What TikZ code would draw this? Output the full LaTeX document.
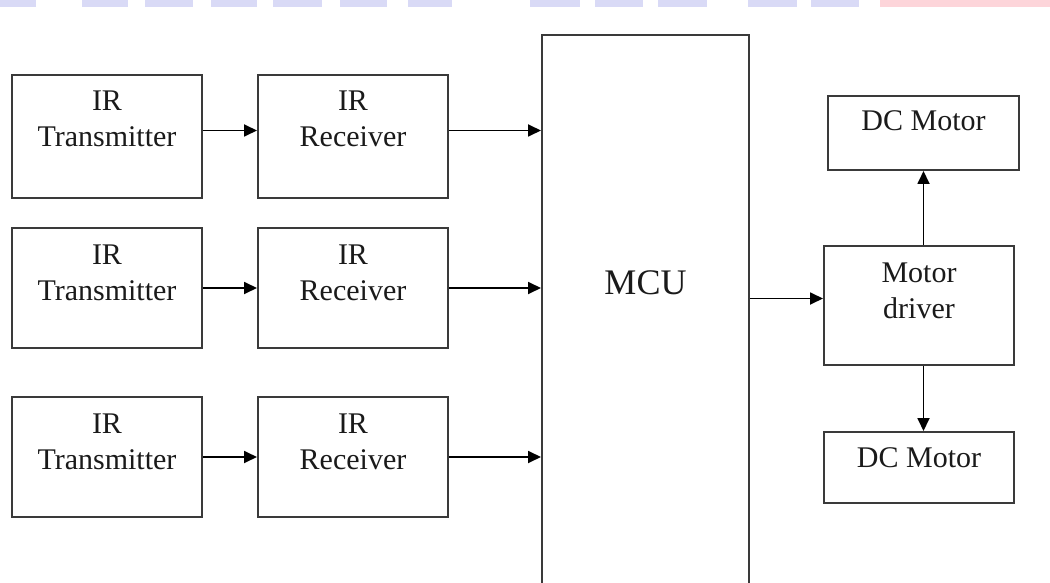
\documentclass[tikz,border=0pt]{standalone}
\usepackage{fontspec}
\setmainfont{Liberation Serif}
\usetikzlibrary{arrows.meta,positioning}
\definecolor{ink}{HTML}{1A1A1A}
\definecolor{edge}{HTML}{3A3A3A}
\definecolor{lav}{HTML}{D9DAF6}
\definecolor{rose}{HTML}{FDD5DA}
\tikzset{
  blk/.style    = {rectangle, draw=edge, line width=2pt, align=center, text=ink,
                   font=\fontsize{30pt}{36pt}\selectfont, inner sep=0pt,
                   minimum width=190pt, text height=72pt, text depth=#1},
  oneline/.style= {text height=35pt},
  mcubox/.style = {blk=300pt, minimum width=207pt, text height=259pt,
                   font=\fontsize{36pt}{43pt}\selectfont},
  fl/.style     = {-{Triangle[length=13pt,width=12pt]}, line width=1.8pt, draw=black},
}
\begin{document}
\begin{tikzpicture}[x=1pt, y=-1pt]
\useasboundingbox (0,0) rectangle (1050,583);
% strip along the top edge
\foreach \a/\b in {0/36,82/128,145/193,211/257,273/322,340/387,408/452,530/580,595/643,658/707,748/797,811/859}
  \fill[lav] (\a,0) rectangle (\b,7.5);
\fill[rose] (880,0) rectangle (1050,7.5);
% sensor pairs
\node[blk=51pt, anchor=north west] (tx1) at (11,74) {IR\\Transmitter};
\node[blk=51pt, right=54pt of tx1] (rx1) {IR\\Receiver};
\node[blk=48pt, below=28pt of tx1] (tx2) {IR\\Transmitter};
\node[blk=48pt, right=54pt of tx2] (rx2) {IR\\Receiver};
\node[blk=48pt, below=47pt of tx2] (tx3) {IR\\Transmitter};
\node[blk=48pt, right=54pt of tx3] (rx3) {IR\\Receiver};
% controller
\node[mcubox, anchor=north west] (mcu) at (541,34) {MCU};
% drive side
\node[blk=47pt, anchor=north west] (drv) at (823,245) {Motor\\driver};
\node[blk=39pt, oneline, anchor=north west, minimum width=191pt] (dc1) at (827,95) {DC Motor};
\node[blk=36pt, oneline, anchor=north west] (dc2) at (823,431) {DC Motor};
% edges
\draw[fl] ([yshift=6pt]tx1.east) -- ([yshift=6pt]rx1.west);
\draw[fl] ([yshift=6pt]rx1.east) -- ([yshift=6pt]rx1.east -| mcu.west);
\draw[fl] (tx2) -- (rx2);
\draw[fl] (rx2) -- (rx2 -| mcu.west);
\draw[fl] (tx3) -- (rx3);
\draw[fl] (rx3) -- (rx3 -| mcu.west);
\draw[fl] ([yshift=7pt]mcu.east |- drv.west) -- ([yshift=7pt]drv.west);
\draw[fl] (drv.north -| dc1.south) -- (dc1.south);
\draw[fl] (drv.south -| dc1.south) -- (dc2.north -| dc1.south);
\end{tikzpicture}
\end{document}
